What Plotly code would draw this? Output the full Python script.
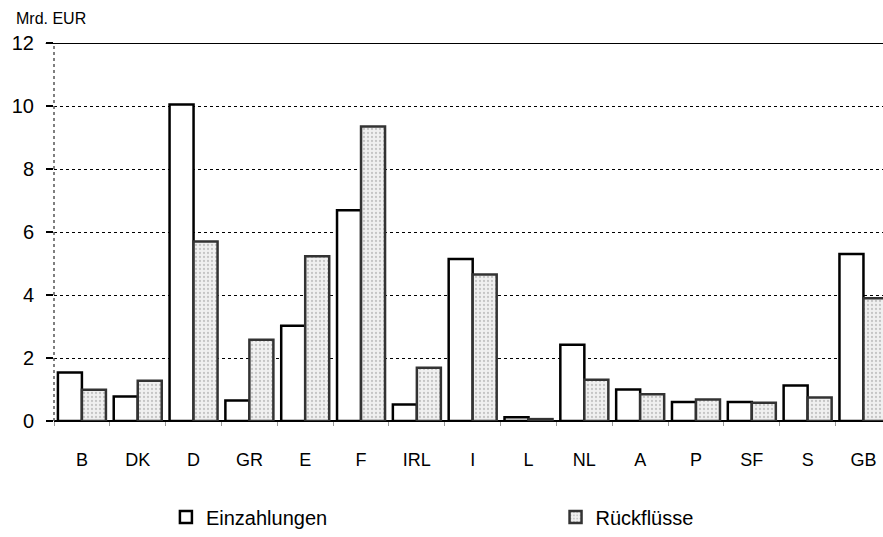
import plotly.graph_objects as go

# EU member states and their budget flows (Mrd. EUR)
laender = ["B", "DK", "D", "GR", "E", "F", "IRL", "I", "L", "NL", "A", "P", "SF", "S", "GB"]
einzahlungen = [1.54, 0.78, 10.05, 0.65, 3.02, 6.69, 0.52, 5.14, 0.12, 2.42, 1.00, 0.60, 0.60, 1.13, 5.30]
rueckfluesse = [0.99, 1.28, 5.70, 2.58, 5.23, 9.35, 1.69, 4.65, 0.06, 1.31, 0.85, 0.68, 0.58, 0.75, 3.90]
y_ticks = [0, 2, 4, 6, 8, 10, 12]

FONT = "Liberation Sans, Arial, sans-serif"

fig = go.Figure()
fig.add_trace(go.Bar(
    name="Einzahlungen", x=laender, y=einzahlungen, legend="legend",
    marker=dict(color="white", line=dict(color="black", width=2.5)),
))
fig.add_trace(go.Bar(
    name="Rückflüsse", x=laender, y=rueckfluesse, legend="legend2",
    marker=dict(
        color="#eeeeee",
        line=dict(color="#333333", width=2.5),
        pattern=dict(shape=".", fgcolor="#9a9a9a", bgcolor="#f0f0f0", size=4, solidity=0.25),
    ),
))

# solid top line at 12
fig.add_shape(type="line", xref="paper", yref="y", x0=-0.01, x1=1, y0=12, y1=12,
              line=dict(color="black", width=2))
# dotted vertical axis line
fig.add_shape(type="line", xref="paper", yref="y", x0=0, x1=0, y0=0, y1=12,
              line=dict(color="#555555", width=1.5, dash="dot"))

fig.add_annotation(text="Mrd. EUR", xref="paper", yref="paper", x=-0.048, y=1.065,
                   xanchor="left", yanchor="middle", showarrow=False,
                   font=dict(family=FONT, size=16, color="black"))

legend_style = dict(orientation="h", xanchor="left", yanchor="middle", y=-0.254,
                    font=dict(family=FONT, size=20, color="black"),
                    bgcolor="rgba(0,0,0,0)")

fig.update_layout(
    width=883, height=537,
    margin=dict(l=54, r=0, t=43, b=112),
    paper_bgcolor="white", plot_bgcolor="white",
    barmode="group", bargap=0.14, bargroupgap=0.0,
    font=dict(family=FONT, size=18, color="black"),
    showlegend=True,
    legend=dict(x=0.135, **legend_style),
    legend2=dict(x=0.605, **legend_style),
)
fig.update_xaxes(
    range=[-0.5, 14.35], showgrid=False, showline=False,
    ticks="outside", tickson="boundaries", ticklen=4, tickcolor="#999999", tickwidth=1,
    ticklabelstandoff=26,
    tickfont=dict(family=FONT, size=18, color="black"),
)
fig.update_yaxes(
    range=[0, 12], tickvals=y_ticks, showgrid=True, gridcolor="black", gridwidth=1,
    griddash="dot", zeroline=True, zerolinecolor="black", zerolinewidth=2,
    ticks="outside", ticklen=7, tickcolor="black", tickwidth=1.5,
    ticklabelstandoff=8,
    tickfont=dict(family=FONT, size=20, color="black"),
)

fig.write_html("out.html")
